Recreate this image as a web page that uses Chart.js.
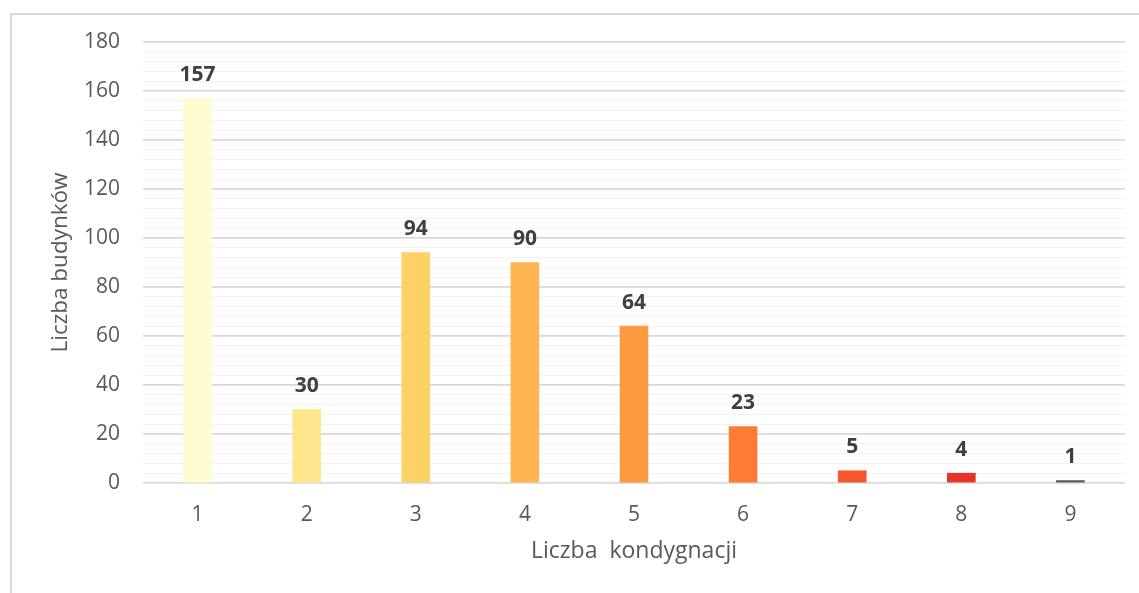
<!DOCTYPE html>
<html>
<head>
<meta charset="utf-8">
<script src="https://cdn.jsdelivr.net/npm/chart.js@4/dist/chart.umd.min.js"></script>
<style>
  html, body { margin: 0; padding: 0; background: #ffffff; }
  #wrap { position: relative; width: 1139px; height: 593px; overflow: hidden; }
  #frame { position: absolute; left: 10px; top: 13px; width: 1300px; height: 800px;
           border-left: 2px solid #D9D9D9; border-top: 2px solid #D9D9D9; box-sizing: border-box; }
  canvas { position: absolute; left: 0; top: 0; }
</style>
</head>
<body>
<div id="wrap">
  <div id="frame"></div>
  <canvas id="c" width="1139" height="593"></canvas>
</div>
<script>
const categories = ['1', '2', '3', '4', '5', '6', '7', '8', '9'];
const buildingCounts = [157, 30, 94, 90, 64, 23, 5, 4, 1];
const barColors = ['#FFFDCF', '#FFE68B', '#FED166', '#FEB551', '#FD9B42', '#FC7B35', '#F4582C', '#E8322A', '#595959'];
const yTitle = 'Liczba budynków';
const xTitle = 'Liczba  kondygnacji';
const yMax = 180;
const yMajorStep = 20;
const yMinorStep = 4;

const FONT = '"Open Sans", "DejaVu Sans", sans-serif';

const dataLabelPlugin = {
  id: 'dataLabels',
  afterDatasetsDraw(chart) {
    const ctx = chart.ctx;
    const meta = chart.getDatasetMeta(0);
    ctx.save();
    ctx.font = 'bold 21px ' + FONT;
    ctx.fillStyle = '#404040';
    ctx.textAlign = 'center';
    ctx.textBaseline = 'alphabetic';
    meta.data.forEach((bar, i) => {
      const p = bar.getProps(['x', 'y'], true);
      ctx.fillText(String(buildingCounts[i]), p.x, p.y - 17.5);
    });
    ctx.restore();
  }
};

new Chart(document.getElementById('c'), {
  type: 'bar',
  data: {
    labels: categories,
    datasets: [{
      data: buildingCounts,
      backgroundColor: barColors,
      borderWidth: 0,
      barThickness: 28
    }]
  },
  options: {
    responsive: false,
    animation: false,
    events: [],
    layout: { padding: { top: 42, right: 14, left: 0, bottom: 0 } },
    plugins: { legend: { display: false }, tooltip: { enabled: false } },
    scales: {
      x: {
        grid: { display: false, drawTicks: false, tickLength: 0 },
        border: { display: false },
        ticks: { color: '#595959', font: { family: FONT, size: 21 }, padding: 19 },
        title: { display: true, text: xTitle, color: '#595959',
                 font: { family: FONT, size: 23 }, padding: { top: 0, bottom: 28 } },
        afterFit(scale) { scale.height = 110; }
      },
      y: {
        min: 0, max: yMax,
        grid: {
          drawTicks: false, tickLength: 0,
          color: (c) => (c.tick && c.tick.value % yMajorStep === 0) ? '#D9D9D9' : '#F2F2F2',
          lineWidth: (c) => (c.tick && c.tick.value % yMajorStep === 0) ? 1.8 : 1
        },
        border: { display: false },
        ticks: {
          stepSize: yMinorStep,
          autoSkip: false,
          color: '#595959',
          font: { family: FONT, size: 21 },
          padding: 23,
          callback: (v) => (v % yMajorStep === 0 ? String(v) : '')
        },
        title: { display: true, text: yTitle, color: '#595959',
                 font: { family: FONT, size: 22.5 }, padding: { top: 47.5, bottom: 0 } },
        afterFit(scale) { scale.width = 143; }
      }
    }
  },
  plugins: [dataLabelPlugin]
});
</script>
</body>
</html>
